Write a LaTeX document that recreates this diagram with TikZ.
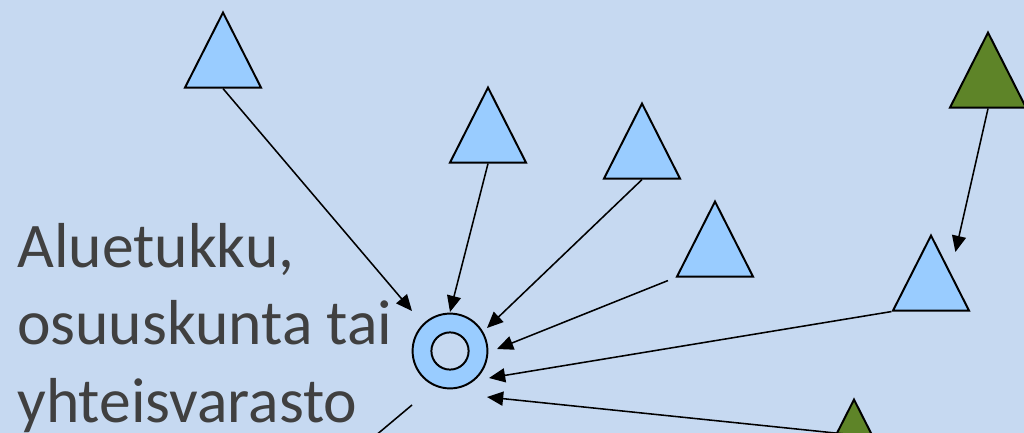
\documentclass[tikz,border=0pt]{standalone}
\usepackage{fontspec}
\setmainfont{Carlito}
\usetikzlibrary{shapes.geometric, arrows.meta, calc}
\definecolor{slidebg}{RGB}{198,217,241}
\definecolor{depotblue}{RGB}{153,204,255}
\definecolor{farmgreen}{RGB}{94,132,40}
\definecolor{labelgray}{RGB}{64,64,64}

\tikzset{
    farm/.style={isosceles triangle, isosceles triangle stretches, shape border rotate=90,
        minimum width=1.9cm, minimum height=1.875cm, inner sep=0pt,
        draw=black, line width=1.4pt, fill=depotblue},
    bigfarm/.style={farm, fill=farmgreen},
    haul/.style={draw=black, line width=1.1pt, -{Triangle[length=11.5pt, width=10pt]}},
}

\begin{document}
\begin{tikzpicture}[x=0.025cm, y=-0.025cm]
    % Page frame
    \useasboundingbox (0,0) rectangle (1024,433);
    \clip (0,0) rectangle (1024,433);
    \fill[slidebg] (0,0) rectangle (1024,433);

    % Collection point
    \node[circle, draw=black, line width=1.4pt, fill=depotblue, minimum size=1.87cm, inner sep=0pt] (hub) at (450,351) {};
    \node[circle, draw=black, line width=1.4pt, fill=slidebg, minimum size=0.93cm, inner sep=0pt] (hubcore) at (hub) {};

    % Producers
    \node[farm, anchor=apex] (t1) at (223,10) {};
    \node[farm, anchor=apex] (t2) at (488,85) {};
    \node[farm, anchor=apex] (t3) at (642,101) {};
    \node[farm, anchor=apex] (t4) at (715,199) {};
    \node[farm, anchor=apex] (t5) at (931,233) {};
    \node[bigfarm, anchor=apex] (g1) at (988,30) {};
    \node[bigfarm, anchor=apex] (g2) at (854,397) {};

    % Loose ends below the frame
    \coordinate (farsouth) at (903,440);
    \coordinate (pickup) at (356,452);

    % Deliveries
    \draw[haul] (t1.south) -- ($(hub)+(-38,-40)$);
    \draw[haul] (t2.south) -- ($(hub)+(0,-39)$);
    \draw[haul] (t3.south) -- ($(hub)+(37,-23)$);
    \draw[haul, shorten <=0.2cm] (t4.left corner) -- ($(hub)+(47,-2)$);
    \draw[haul] (t5.left corner) -- ($(hub)+(39,27)$);
    \draw[haul] (farsouth) -- ($(hub)+(37,46)$);
    \draw[haul, shorten >=0.52cm] (g1.south) -- (t5.right side);
    \draw[line width=1.1pt] ($(hub)+(-38,54)$) -- (pickup);

    % Label
    \node[anchor=base west, inner sep=0pt, align=left, text=labelgray,
        font=\fontsize{45.2}{55}\selectfont] (depotlabel) at (17,422)
        {Aluetukku,\\osuuskunta tai\\yhteisvarasto};
\end{tikzpicture}
\end{document}
